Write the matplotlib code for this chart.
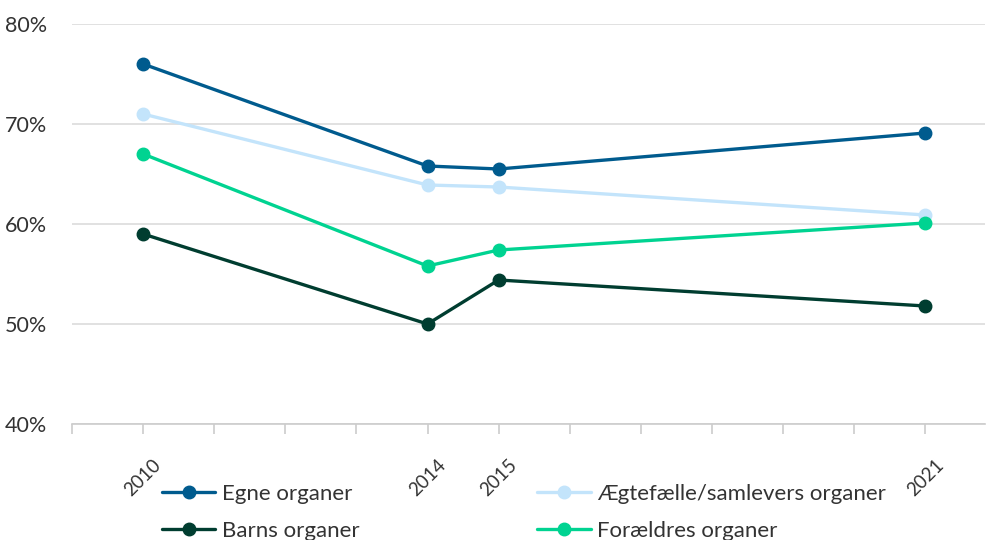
import matplotlib
matplotlib.use('Agg')
import matplotlib.pyplot as plt
from matplotlib.ticker import FuncFormatter

# data
years = [2010, 2014, 2015, 2021]
egne = [76.0, 65.8, 65.5, 69.1]
aegtefaelle = [71.0, 63.9, 63.7, 60.9]
barns = [59.0, 50.0, 54.4, 51.8]
foraeldres = [67.0, 55.8, 57.4, 60.1]

names = ['Egne organer', 'Ægtefælle/samlevers organer', 'Barns organer', 'Forældres organer']
colors = ['#005b8e', '#c3e4fb', '#003d30', '#00d391']

plt.rcParams['font.family'] = ['Lato', 'DejaVu Sans']

fig = plt.figure(figsize=(9.87, 5.4), dpi=100)
ax = fig.add_axes([72/987, 1-424/540, 913/987, 400/540])

series = [egne, aegtefaelle, barns, foraeldres]
lines = {}
for name, vals, c in zip(names, series, colors):
    ln, = ax.plot(years, vals, color=c, lw=2.4, marker='o', ms=9, label=name,
                  solid_capstyle='round', zorder=3)
    lines[name] = ln

ax.set_ylim(40, 80)
ax.set_xlim(2009, 2021.84)
ax.set_yticks([40, 50, 60, 70, 80])
ax.yaxis.set_major_formatter(FuncFormatter(lambda v, p: '%d%%' % v))
ax.grid(axis='y', color='#dcdcdc', lw=1.2)
ax.set_axisbelow(True)

ax.set_xticks(years)
ax.set_xticklabels([str(y) for y in years], rotation=45, ha='center', va='top')
ax.set_xticks(list(range(2009, 2022)), minor=True)
ax.tick_params(axis='x', which='both', length=7, color='#cccccc', width=1.2)
ax.tick_params(axis='x', which='major', pad=16, labelsize=13.5, labelcolor='#333333')
ax.tick_params(axis='y', length=0, pad=18, labelsize=15.5, labelcolor='#333333')

for s in ['top', 'right', 'left']:
    ax.spines[s].set_visible(False)
ax.spines['bottom'].set_color('#cccccc')
ax.spines['bottom'].set_linewidth(1.2)

order = ['Egne organer', 'Barns organer', 'Ægtefælle/samlevers organer', 'Forældres organer']
fig.legend([lines[n] for n in order], order, ncol=2, loc='upper left',
           bbox_to_anchor=(162/987, 1-484/540), frameon=False, fontsize=16,
           handlelength=2.4, handletextpad=0.3, columnspacing=8.0,
           labelspacing=0.75, labelcolor='#333333', borderaxespad=0, borderpad=0)

fig.savefig('out.png', dpi=100)
